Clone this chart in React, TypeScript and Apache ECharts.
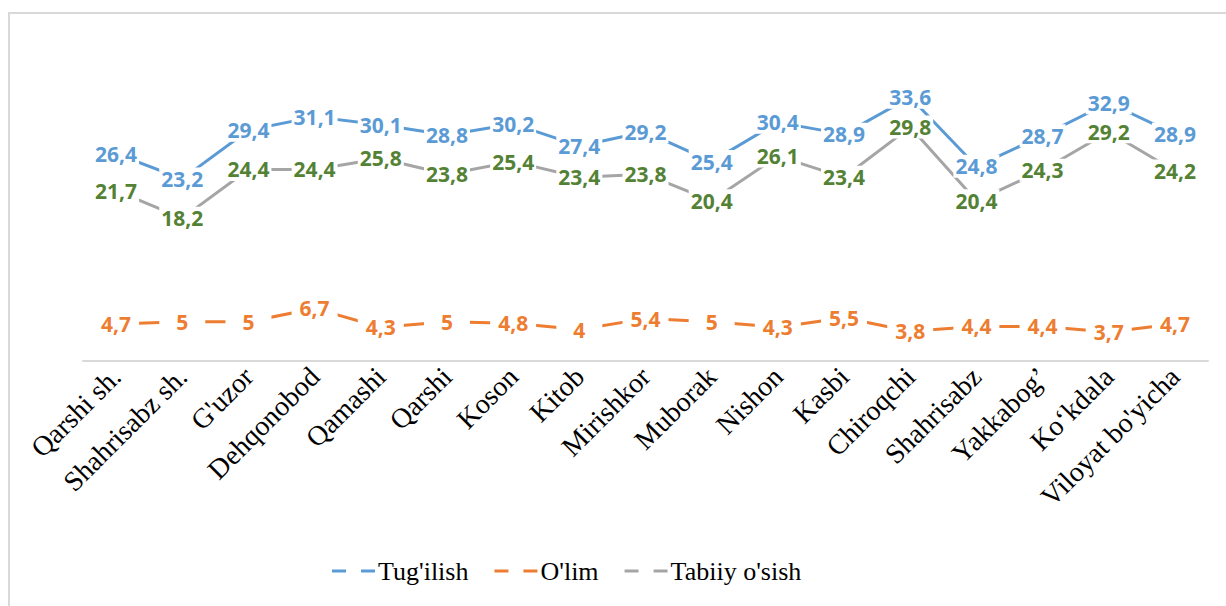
import React, { useEffect, useRef } from "react";
import * as echarts from "echarts";

const categories = [
  "Qarshi sh.", "Shahrisabz sh.", "G'uzor", "Dehqonobod", "Qamashi", "Qarshi", "Koson", "Kitob",
  "Mirishkor", "Muborak", "Nishon", "Kasbi", "Chiroqchi", "Shahrisabz", "Yakkabog’", "Ko‘kdala", "Viloyat bo'yicha",
];
const tugilish = [26.4, 23.2, 29.4, 31.1, 30.1, 28.8, 30.2, 27.4, 29.2, 25.4, 30.4, 28.9, 33.6, 24.8, 28.7, 32.9, 28.9];
const olim = [4.7, 5, 5, 6.7, 4.3, 5, 4.8, 4, 5.4, 5, 4.3, 5.5, 3.8, 4.4, 4.4, 3.7, 4.7];
const tabiiy = [21.7, 18.2, 24.4, 24.4, 25.8, 23.8, 25.4, 23.4, 23.8, 20.4, 26.1, 23.4, 29.8, 20.4, 24.3, 29.2, 24.2];
const seriesNames = ["Tug'ilish", "O'lim", "Tabiiy o'sish"];
const lineColors = ["#5B9BD5", "#ED7D31", "#A5A5A5"];
const labelColors = ["#5B9BD5", "#ED7D31", "#548235"];

const fmt = (v: number) => String(v).replace(".", ",");
const legendIcon = "path://M0,0h14v3h-14z M29,0h14v3h-14z";

export default function App() {
  const ref = useRef<HTMLDivElement>(null);
  useEffect(() => {
    if (!ref.current) return;
    const chart = echarts.init(ref.current, null, { renderer: "svg" });
    const mk = (i: number, data: number[]) => ({
      name: seriesNames[i],
      type: "line",
      data,
      symbol: "circle",
      symbolSize: 1,
      showSymbol: true,
      itemStyle: { color: "rgba(255,255,255,0)" },
      lineStyle: { color: lineColors[i], width: 3 },
      label: {
        show: true,
        position: "inside",
        formatter: (p: any) => fmt(p.value),
        color: labelColors[i],
        fontFamily: "Open Sans",
        fontWeight: "bold",
        fontSize: 21,
        width: 44,
        align: "center",
        backgroundColor: "#ffffff",
        padding: [1, 1],
      },
      emphasis: { disabled: true },
    });
    chart.setOption({
      animation: false,
      backgroundColor: "#ffffff",
      graphic: [
        {
          type: "rect",
          shape: { x: 9, y: 13, width: 1240, height: 620 },
          style: { fill: "none", stroke: "#D9D9D9", lineWidth: 2 },
          silent: true,
          z: 100,
        },
      ],
      grid: { left: 83, right: 18, top: 47, bottom: 245 },
      legend: {
        bottom: 17,
        left: 327,
        icon: legendIcon,
        itemWidth: 43,
        itemHeight: 3,
        itemGap: 26,
        textStyle: { fontFamily: "Liberation Serif", fontSize: 26, color: "#000000", padding: [0, 0, 0, -2] },
        data: seriesNames.map((n, i) => ({ name: n, itemStyle: { color: lineColors[i] } })),
      },
      xAxis: {
        type: "category",
        data: categories,
        boundaryGap: true,
        axisLine: { lineStyle: { color: "#D9D9D9", width: 2 } },
        axisTick: { show: false },
        axisLabel: {
          rotate: 45,
          interval: 0,
          margin: 11,
          fontFamily: "Liberation Serif",
          fontSize: 28,
          color: "#000000",
        },
      },
      yAxis: {
        type: "value",
        min: 0,
        max: 40,
        interval: 5,
        show: false,
        splitLine: { show: false },
      },
      series: [mk(0, tugilish), mk(1, olim), mk(2, tabiiy)],
    });
    return () => chart.dispose();
  }, []);
  return <div ref={ref} style={{ position: "absolute", left: 0, top: 0, width: 1226, height: 606 }} />;
}
